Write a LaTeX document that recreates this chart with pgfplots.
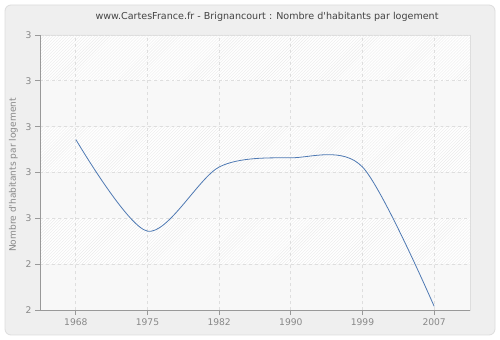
\documentclass[border=0pt]{standalone}
\usepackage{pgfplots}
\pgfplotsset{compat=1.18}
\usepackage{fontspec}
\setmainfont{DejaVu Sans}
\usetikzlibrary{patterns}
\definecolor{bgc}{HTML}{EFEFEF}
\definecolor{borderc}{HTML}{DDDDDD}
\definecolor{bandc}{HTML}{F8F8F8}
\definecolor{hatchc}{HTML}{EBEBEB}
\definecolor{gridc}{HTML}{DEDEDE}
\definecolor{axc}{HTML}{999999}
\definecolor{tickc}{HTML}{888888}
\definecolor{titlec}{HTML}{444444}
\definecolor{linec}{HTML}{4E79B3}
\begin{document}
\begin{tikzpicture}
\begin{axis}[
  set layers,
  at={(40bp,30bp)}, anchor=south west,
  scale only axis, width=430bp, height=275bp,
  xmin=-0.5, xmax=5.5, ymin=2, ymax=3.5,
  xtick={0,...,5},
  xticklabels={1968,1975,1982,1990,1999,2007},
  ytick={2,2.25,2.5,2.75,3,3.25,3.5},
  yticklabels={2,2,3,3,3,3,3},
  axis x line*=bottom, axis y line*=left,
  axis line style={color=axc, line width=0.8bp},
  grid=major,
  major grid style={dashed, color=gridc, line width=0.7bp},
  tick align=outside, major tick length=5bp,
  tick style={color=axc, line width=0.8bp},
  tick label style={font=\fontsize{9.2}{11}\selectfont, color=tickc},
  /pgf/number format/assume math mode=true,
  clip=false,
]
\pgfonlayer{axis background}
\fill[white, shift={(axis cs:-0.5,2)}] (-40bp,-30bp) rectangle (460bp,310bp);
\filldraw[fill=bgc, draw=borderc, line width=0.8bp, rounded corners=6bp, shift={(axis cs:-0.5,2)}] (-35bp,-25bp) rectangle (455bp,305bp);
\filldraw[fill=white, draw=borderc, line width=0.6bp] (axis cs:-0.5,2) rectangle (axis cs:5.5,3.5);
\fill[bandc] (axis cs:-0.5,2) rectangle (axis cs:5.5,2.25);
\fill[bandc] (axis cs:-0.5,2.5) rectangle (axis cs:5.5,2.75);
\fill[bandc] (axis cs:-0.5,3) rectangle (axis cs:5.5,3.25);
\fill[pattern=north east lines, pattern color=hatchc] (axis cs:-0.5,2.25) rectangle (axis cs:5.5,2.5);
\fill[pattern=north east lines, pattern color=hatchc] (axis cs:-0.5,2.75) rectangle (axis cs:5.5,3);
\fill[pattern=north east lines, pattern color=hatchc] (axis cs:-0.5,3.25) rectangle (axis cs:5.5,3.5);
\endpgfonlayer
\addplot[smooth, color=linec, line width=0.8bp] coordinates {(0,2.93) (1,2.43) (2,2.78) (3,2.83) (4,2.78) (5,2.02)};
\end{axis}
\node[font=\fontsize{9.6}{11}\selectfont, color=titlec] at (267bp,323bp) {www.CartesFrance.fr - Brignancourt : Nombre d\textquotesingle habitants par logement};
\node[font=\fontsize{9.1}{11}\selectfont, color=tickc, rotate=90] at (13.3bp,165bp) {Nombre d\textquotesingle habitants par logement};
\end{tikzpicture}
\end{document}
